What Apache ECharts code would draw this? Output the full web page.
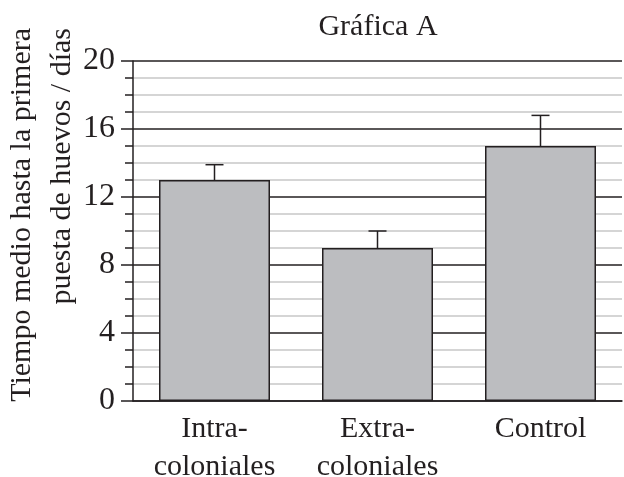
<!DOCTYPE html>
<html>
<head>
<meta charset="utf-8">
<script src="https://cdn.jsdelivr.net/npm/echarts@6/dist/echarts.min.js"></script>
<style>html,body{margin:0;padding:0;background:#fff}#c{width:624px;height:477px}</style>
</head>
<body>
<div id="c"></div>
<script>
const categories = ['Intra-\ncoloniales', 'Extra-\ncoloniales', 'Control'];
const meanDays = [13, 9, 15];
const errTop = [13.9, 10.0, 16.8];
const yTicks = [0, 4, 8, 12, 16, 20];

const FONT = '"Liberation Serif", "Times New Roman", serif';
const INK = '#231f20';
const chart = echarts.init(document.getElementById('c'), null, {renderer: 'canvas'});
chart.setOption({
  animation: false,
  backgroundColor: '#ffffff',
  title: {
    text: 'Gráfica A', left: 373, top: 7, textAlign: 'center',
    textStyle: {fontFamily: FONT, fontSize: 30, fontWeight: 'normal', color: INK}
  },
  grid: {left: 133, right: 2, top: 61, bottom: 76, outerBoundsMode: 'none', containLabel: false},
  xAxis: {
    type: 'category', data: categories,
    axisLine: {lineStyle: {color: INK, width: 1.5}},
    axisTick: {show: false},
    axisLabel: {fontFamily: FONT, fontSize: 30, color: INK, lineHeight: 38, margin: 9, interval: 0}
  },
  yAxis: {
    type: 'value', min: yTicks[0], max: yTicks[yTicks.length - 1], interval: 4,
    axisLine: {show: true, lineStyle: {color: INK, width: 1.5}},
    axisTick: {show: true, length: 12, lineStyle: {color: INK, width: 1.5}},
    minorTick: {show: true, splitNumber: 4, length: 8, lineStyle: {color: INK, width: 1.5}},
    splitLine: {show: true, lineStyle: {color: INK, width: 1.5}},
    minorSplitLine: {show: true, lineStyle: {color: '#c8c8c8', width: 1.5}},
    axisLabel: {fontFamily: FONT, fontSize: 32, color: INK, margin: 18}
  },
  graphic: [{
    type: 'text', x: 42, y: 28, rotation: Math.PI / 2,
    style: {
      text: 'Tiempo medio hasta la primera\npuesta de huevos / días',
      font: '30px ' + FONT, fill: INK, align: 'right', verticalAlign: 'middle', lineHeight: 40
    }
  }],
  series: [{
    type: 'bar', data: meanDays, barWidth: 111,
    itemStyle: {color: '#bcbdc0', borderColor: INK, borderWidth: 1.5},
    z: 2
  }, {
    type: 'custom', z: 3,
    data: meanDays.map((v, i) => [i, v, errTop[i]]),
    renderItem: function (params, api) {
      const base = api.coord([api.value(0), api.value(1)]);
      const top = api.coord([api.value(0), api.value(2)]);
      const hw = 9;
      return {
        type: 'group',
        children: [
          {type: 'line', shape: {x1: base[0], y1: base[1], x2: top[0], y2: top[1]}, style: {stroke: INK, lineWidth: 1.5}},
          {type: 'line', shape: {x1: top[0] - hw, y1: top[1], x2: top[0] + hw, y2: top[1]}, style: {stroke: INK, lineWidth: 1.5}}
        ]
      };
    }
  }]
});
</script>
</body>
</html>
